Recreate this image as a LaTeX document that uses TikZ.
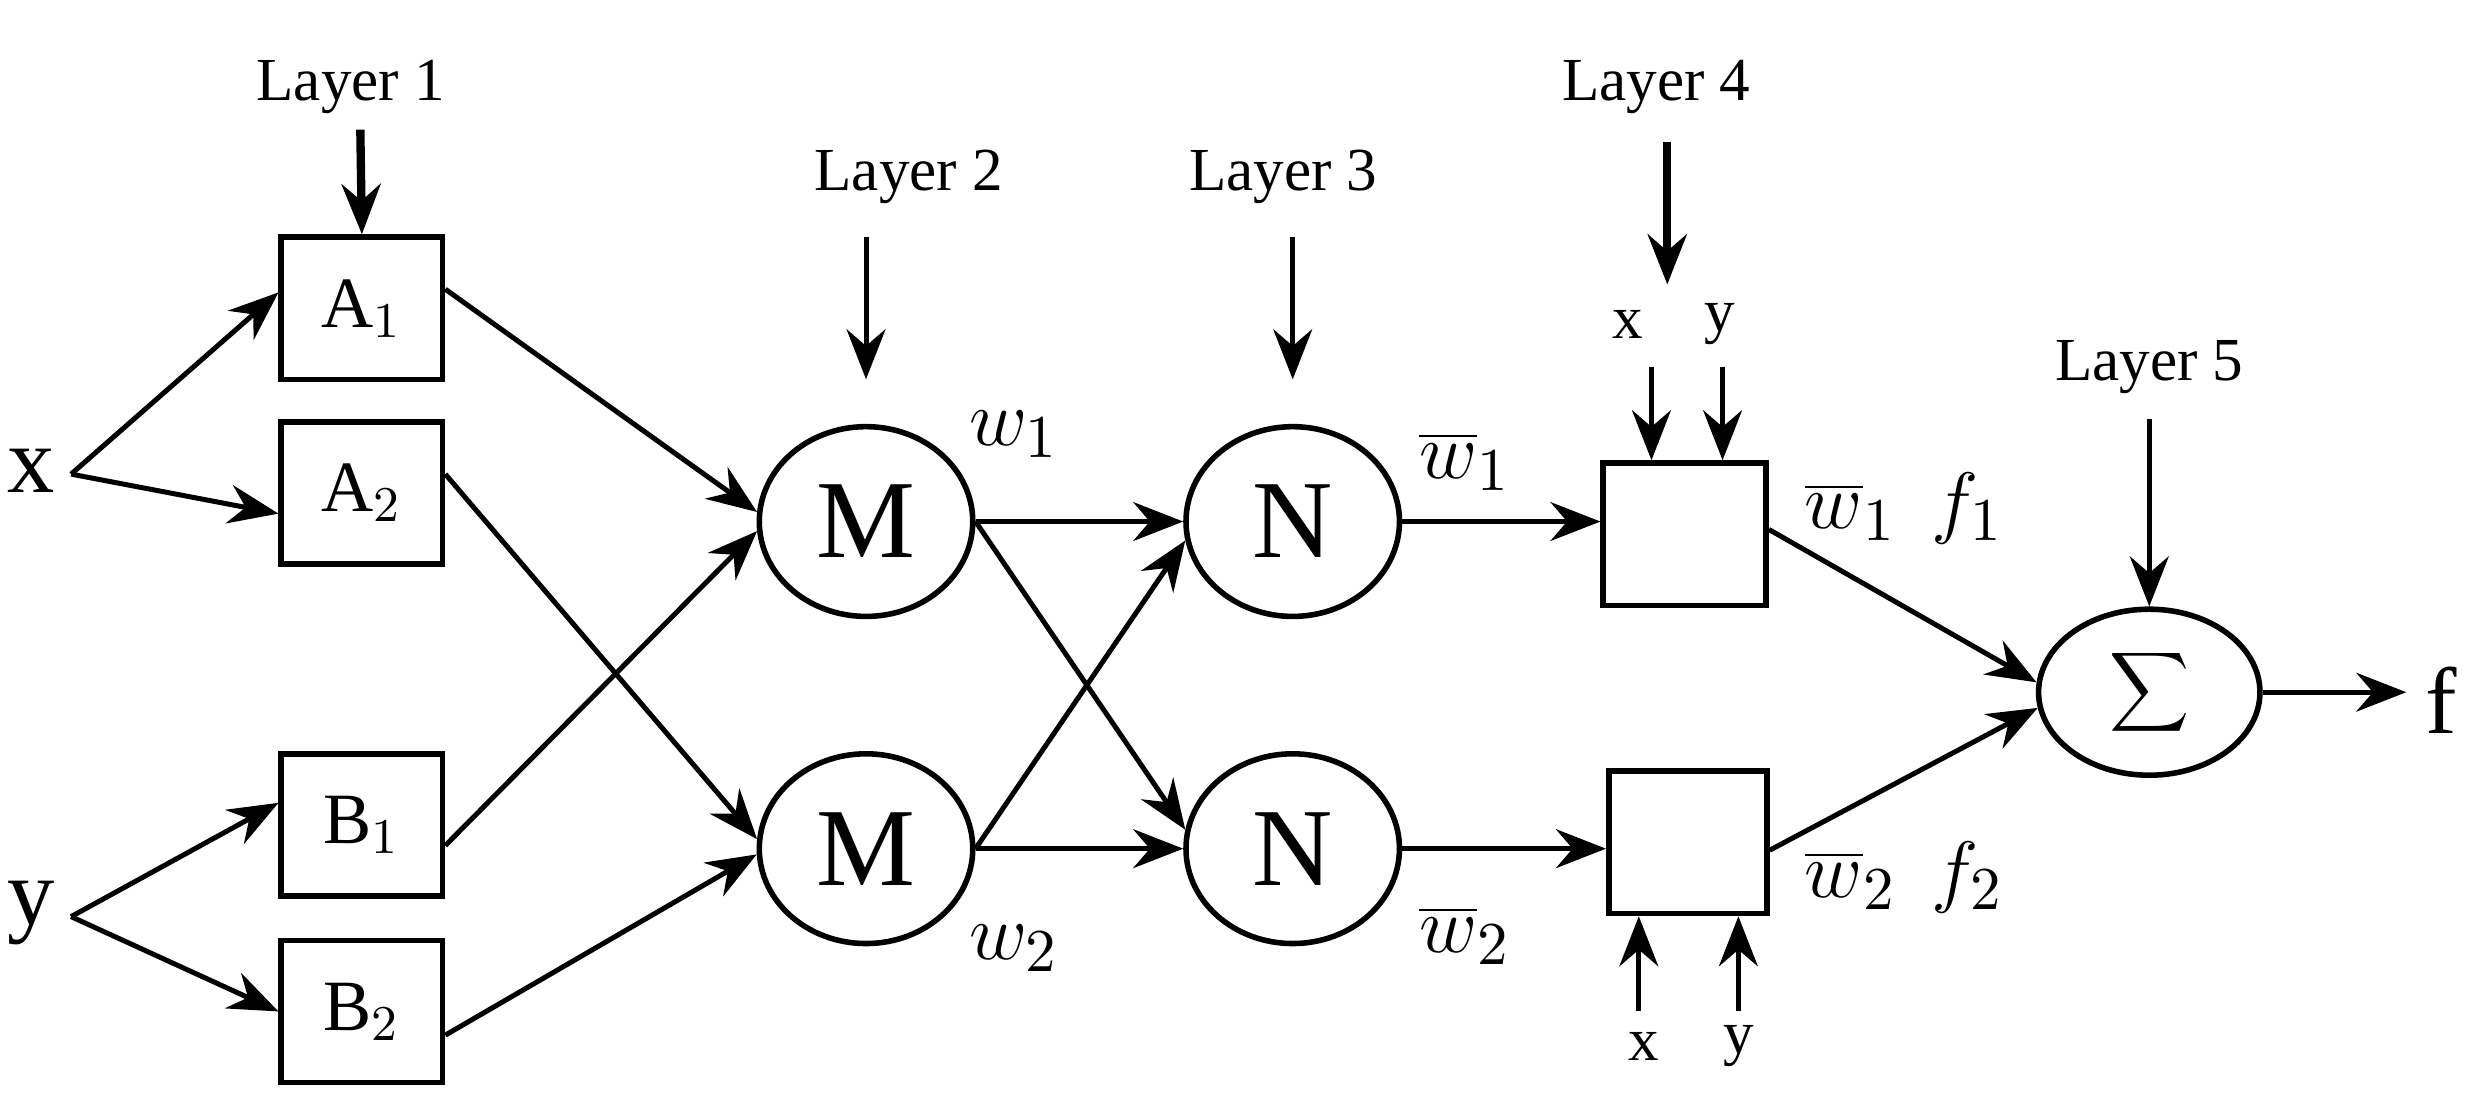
\documentclass[tikz,border=0pt]{standalone}
\usepackage{fontspec}
\setmainfont{Liberation Serif}
\usetikzlibrary{arrows.meta,shapes.geometric}
\begin{document}
\begin{tikzpicture}[x=0.01cm,y=-0.01cm,
  ar/.style={-{Stealth[length=9pt,width=7pt,inset=3pt]},line width=0.9pt},
  box/.style={draw,line width=1pt,minimum width=1.02cm,minimum height=0.9cm,inner sep=0pt,font=\fontsize{13}{13}\selectfont},
  circ/.style={draw,ellipse,line width=1pt,minimum width=1.35cm,minimum height=1.2cm,inner sep=0pt,font=\fontsize{20}{20}\selectfont},
  lab/.style={font=\fontsize{11}{11}\selectfont},
  big/.style={font=\fontsize{17}{17}\selectfont},
  wl/.style={font=\fontsize{15}{15}\selectfont\itshape}]
\useasboundingbox (0,0) rectangle (1568,702);
% inputs
\node[big] (x) at (20,298) {x};
\node[big] (y) at (20,578) {y};
\coordinate (xo) at (45,300);
\coordinate (yo) at (45,580);
% layer 1
\node[box] (A1) at (229,195) {A$_1$};
\node[box] (A2) at (229,312) {A$_2$};
\node[box] (B1) at (229,522) {B$_1$};
\node[box] (B2) at (229,640) {B$_2$};
\node[lab] (L1) at (222,55) {Layer 1};
\coordinate (L1s) at (228,82);
\draw[ar,line width=1.5pt] (L1s) -- (A1.north);
\draw[ar] (xo) -- (A1.west |- 0,185);
\draw[ar] (xo) -- (A2.west |- 0,325);
\draw[ar] (yo) -- (B1.west |- 0,508);
\draw[ar] (yo) -- (B2.west |- 0,640);
% layer 2
\node[circ] (M1) at (548,330) {M};
\node[circ] (M2) at (548,537) {M};
\node[lab] (L2) at (575,112) {Layer 2};
\coordinate (L2s) at (548,150);
\draw[ar] (L2s) -- (548,240);
\draw[ar] (A1.east |- 0,183) -- (M1.175);
\draw[ar] (B1.east |- 0,535) -- (M1.185);
\draw[ar] (A2.east |- 0,300) -- (M2.175);
\draw[ar] (B2.east |- 0,655) -- (M2.183);
% layer 3
\node[circ] (N1) at (818,330) {N};
\node[circ] (N2) at (818,537) {N};
\node[lab] (L3) at (812,112) {Layer 3};
\coordinate (L3s) at (818,150);
\draw[ar] (L3s) -- (818,240);
\draw[ar] (M1.east) -- (N1.west);
\draw[ar] (M1.east) -- (N2.170);
\draw[ar] (M2.east) -- (N1.190);
\draw[ar] (M2.east) -- (N2.west);
\node[wl] (w1) at (642,275) {$w_1$};
\node[wl] (w2) at (642,600) {$w_2$};
% layer 4
\node[box,minimum width=1.03cm] (P1) at (1066,338) {};
\node[box,minimum width=1.0cm] (P2) at (1068,533) {};
\draw[ar] (N1.east) -- (P1.west |- N1.east);
\draw[ar] (N2.east) -- (P2.west |- N2.east);
\node[wl] (nw1) at (927,292) {$\overline{w}_1$};
\node[wl] (nw2) at (927,592) {$\overline{w}_2$};
\node[lab] (L4) at (1048,55) {Layer 4};
\coordinate (L4s) at (1055,90);
\draw[ar,line width=1.5pt] (L4s) -- (1055,180);
\node[lab] (x1) at (1030,205) {x};
\node[lab] (y1) at (1088,205) {y};
\draw[ar] (1045,232) -- (P1.north -| 1045,0);
\draw[ar] (1090,232) -- (P1.north -| 1090,0);
\node[lab] (x2) at (1040,662) {x};
\node[lab] (y2) at (1100,662) {y};
\draw[ar] (1037,640) -- (P2.south -| 1037,0);
\draw[ar] (1100,640) -- (P2.south -| 1100,0);
% layer 5
\node[draw,ellipse,line width=1pt,minimum width=1.4cm,minimum height=1.05cm,inner sep=0pt] (S) at (1360,438) {\fontsize{22}{22}\selectfont$\displaystyle\sum$};
\node[lab] (L5) at (1360,232) {Layer 5};
\coordinate (L5s) at (1360,265);
\draw[ar] (L5s) -- (S.north);
\draw[ar] (P1.east |- 0,335) -- (S.175);
\draw[ar] (P2.east |- 0,538) -- (S.188);
\node[wl] (wf1) at (1205,322) {$\overline{w}_1\;\, f_1$};
\node[wl] (wf2) at (1205,555) {$\overline{w}_2\;\, f_2$};
\node[big] (f) at (1545,443) {f};
\draw[ar] (S.east) -- (f.west |- S.east);
\end{tikzpicture}
\end{document}
